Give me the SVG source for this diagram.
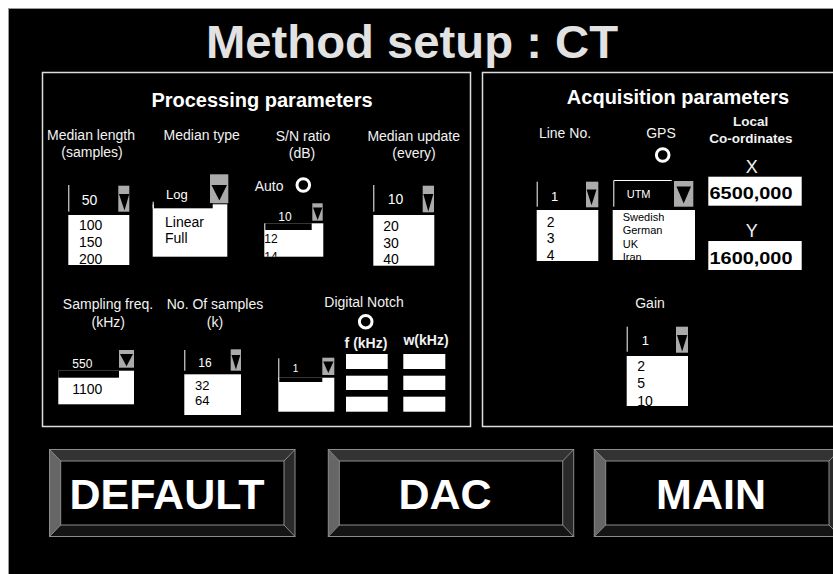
<svg xmlns="http://www.w3.org/2000/svg" width="833" height="574" viewBox="0 0 833 574">
  <style>
    text { font-family: "Liberation Sans", Arial, sans-serif; }
    .title { font-size: 46px; font-weight: bold; fill: #e2e2e2; text-anchor: middle; }
    .head { font-size: 20px; font-weight: bold; fill: #ffffff; text-anchor: middle; }
    .lbl { font-size: 14px; fill: #f2f2f2; text-anchor: middle; }
    .lblb { font-size: 13.5px; font-weight: bold; fill: #f2f2f2; text-anchor: middle; }
    .axis { font-size: 18px; fill: #f2f2f2; text-anchor: middle; }
    .val { font-size: 14px; fill: #ffffff; }
    .item { font-size: 14px; fill: #000000; }
    .big { font-size: 17px; font-weight: bold; fill: #000000; }
    .key { font-size: 43px; font-weight: bold; fill: #ffffff; text-anchor: middle; }
    .panel { fill: none; stroke: #dddddd; stroke-width: 1.5; }
    .list { fill: #ffffff; }
    .hdr { fill: #000000; }
    .edge { stroke: #ffffff; stroke-width: 1; fill: none; }
    .btn { fill: #ababab; }
    .tri { fill: #000000; }
    .radio { fill: none; stroke: #ffffff; stroke-width: 3; }
    .box { fill: #ffffff; }
    .bev-t { fill: #333333; }
    .bev-l { fill: #666666; }
    .bev-b { fill: #141414; }
    .bev-r { fill: #2a2a2a; }
    .bev-line { fill: none; stroke: #8c8c8c; stroke-width: 1; }
  </style>
  <defs>
    <clipPath id="clip-len"><rect x="68.3" y="215" width="61" height="50"/></clipPath>
    <clipPath id="clip-sn"><rect x="264.3" y="223.3" width="59" height="33.4"/></clipPath>
    <clipPath id="clip-upd"><rect x="373.3" y="215" width="61" height="50.7"/></clipPath>
    <clipPath id="clip-line"><rect x="536.7" y="210" width="61.6" height="51"/></clipPath>
    <clipPath id="clip-gps"><rect x="612.7" y="210" width="82.3" height="50"/></clipPath>
    <clipPath id="clip-gain"><rect x="626.7" y="356" width="61.3" height="50"/></clipPath>
  </defs>

  <!-- screen -->
  <rect x="0" y="0" width="833" height="574" fill="#ffffff"/>
  <rect x="8.5" y="8.5" width="830" height="570" fill="#000000" stroke="#9a9a9a" stroke-width="1"/>

  <text id="title" class="title" x="412" y="58" textLength="412" lengthAdjust="spacingAndGlyphs">Method setup : CT</text>

  <!-- processing parameters panel -->
  <g id="processing-panel">
    <rect class="panel" x="42.5" y="72.5" width="428" height="354"/>
    <text class="head" x="262" y="106.5">Processing parameters</text>
  </g>

  <g id="median-length">
    <text class="lbl" x="91" y="140">Median length</text>
    <text class="lbl" x="92" y="157.3">(samples)</text>
    <line class="edge" x1="68.8" y1="185" x2="68.8" y2="211.7"/>
    <text class="val" x="81.7" y="205">50</text>
    <rect class="btn" x="118.3" y="185.7" width="11" height="26"/>
    <polygon class="tri" points="119,194 129.3,194 124.5,210.5"/>
    <rect class="list" x="68.3" y="215" width="61" height="50"/>
    <g clip-path="url(#clip-len)">
      <text class="item" x="79" y="230">100</text>
      <text class="item" x="79" y="246.7">150</text>
      <text class="item" x="79" y="264">200</text>
    </g>
  </g>

  <g id="median-type">
    <text class="lbl" x="201.7" y="140">Median type</text>
    <rect class="btn" x="210" y="174.3" width="18.3" height="29"/>
    <polygon class="tri" points="211.5,185 227,185 219.3,200.5"/>
    <rect class="list" x="152.7" y="204.3" width="74.6" height="52.4"/>
    <rect class="hdr" x="153.7" y="203.3" width="59" height="5"/>
    <line class="edge" x1="153.2" y1="201.7" x2="153.2" y2="208.3"/>
    <text class="val" x="166" y="199.3" style="font-size:13px">Log</text>
    <text class="item" x="165" y="226.7">Linear</text>
    <text class="item" x="165" y="243.3">Full</text>
  </g>

  <g id="sn-ratio">
    <text class="lbl" x="303" y="140.7">S/N ratio</text>
    <text class="lbl" x="302" y="158">(dB)</text>
    <text class="lbl" x="254.7" y="190.7" style="text-anchor:start">Auto</text>
    <circle class="radio" cx="303.3" cy="185" r="6.3"/>
    <text class="val" x="278.3" y="220.7" style="font-size:12px">10</text>
    <rect class="btn" x="312.3" y="203.3" width="10.4" height="17.4"/>
    <polygon class="tri" points="313,207.5 322.3,207.5 317.6,220"/>
    <rect class="list" x="264.3" y="223.3" width="59" height="33.4"/>
    <rect class="hdr" x="265.3" y="223.3" width="46.4" height="6.7"/>
    <g clip-path="url(#clip-sn)">
      <text class="item" x="264.3" y="243.3" style="font-size:12px">12</text>
      <text class="item" x="264.3" y="260.5" style="font-size:12px">14</text>
    </g>
  </g>

  <g id="median-update">
    <text class="lbl" x="413.7" y="140.7">Median update</text>
    <text class="lbl" x="414" y="158">(every)</text>
    <line class="edge" x1="373.8" y1="185" x2="373.8" y2="211.7"/>
    <text class="val" x="387.7" y="204.3">10</text>
    <rect class="btn" x="422.7" y="185.7" width="11.3" height="26.6"/>
    <polygon class="tri" points="423.3,194 433.3,194 428.3,211.5"/>
    <rect class="list" x="373.3" y="215" width="61" height="50.7"/>
    <g clip-path="url(#clip-upd)">
      <text class="item" x="383.3" y="231">20</text>
      <text class="item" x="383.3" y="247.7">30</text>
      <text class="item" x="383.3" y="264.3">40</text>
    </g>
  </g>

  <g id="sampling-freq">
    <text class="lbl" x="108" y="309.3">Sampling freq.</text>
    <text class="lbl" x="108.3" y="326.7">(kHz)</text>
    <text class="val" x="72.3" y="368.3" style="font-size:12px">550</text>
    <rect class="btn" x="119" y="350" width="15" height="17.7"/>
    <polygon class="tri" points="120,354 133,354 126.5,366.3"/>
    <rect class="list" x="58.3" y="370.7" width="75.7" height="33.6"/>
    <rect class="hdr" x="58.3" y="370.7" width="60.7" height="7"/>
    <text class="item" x="72.3" y="394">1100</text>
  </g>

  <g id="sample-count">
    <text class="lbl" x="215" y="309.3">No. Of samples</text>
    <text class="lbl" x="215" y="326.7">(k)</text>
    <line class="edge" x1="184.8" y1="350" x2="184.8" y2="370.7"/>
    <text class="val" x="198.3" y="366.7" style="font-size:12px">16</text>
    <rect class="btn" x="230.7" y="349.3" width="10.3" height="21.4"/>
    <polygon class="tri" points="231.5,355 240.3,355 235.9,369.5"/>
    <rect class="list" x="184.3" y="374.3" width="56.7" height="40.7"/>
    <text class="item" x="195" y="390" style="font-size:13px">32</text>
    <text class="item" x="195" y="405" style="font-size:13px">64</text>
  </g>

  <g id="digital-notch">
    <text class="lbl" x="364" y="306.7">Digital Notch</text>
    <circle class="radio" cx="365.7" cy="321.7" r="6.3"/>
    <text class="lblb" x="366" y="348.3" style="font-size:14px">f (kHz)</text>
    <text class="lblb" x="426" y="345" style="font-size:14px">w(kHz)</text>
    <line class="edge" x1="278.8" y1="358.3" x2="278.8" y2="380"/>
    <text class="val" x="292.7" y="371.7" style="font-size:10px">1</text>
    <rect class="btn" x="322.3" y="357.7" width="12" height="17.3"/>
    <polygon class="tri" points="323.2,361.5 333.5,361.5 328.3,373"/>
    <rect class="list" x="278.3" y="377.7" width="56" height="34"/>
    <rect class="hdr" x="279.3" y="377.7" width="43" height="4.3"/>
    <rect class="box" x="346" y="354" width="41.7" height="15"/>
    <rect class="box" x="346" y="375.7" width="41.7" height="14.3"/>
    <rect class="box" x="346" y="396.7" width="41.7" height="15"/>
    <rect class="box" x="403.3" y="354" width="42" height="15"/>
    <rect class="box" x="403.3" y="375.7" width="42" height="14.3"/>
    <rect class="box" x="403.3" y="396.7" width="42" height="15"/>
  </g>

  <!-- acquisition parameters panel -->
  <g id="acquisition-panel">
    <rect class="panel" x="482.5" y="72.5" width="360" height="354"/>
    <text class="head" x="678" y="104.3">Acquisition parameters</text>
  </g>

  <g id="line-no">
    <text class="lbl" x="565" y="138.3">Line No.</text>
    <line class="edge" x1="537.2" y1="181.7" x2="537.2" y2="206.7"/>
    <text class="val" x="551" y="200.7" style="font-size:13px">1</text>
    <rect class="btn" x="586" y="181.7" width="12.3" height="25.6"/>
    <polygon class="tri" points="586.6,189.5 596.5,189.5 591.5,205.3"/>
    <rect class="list" x="536.7" y="210" width="61.6" height="51"/>
    <g clip-path="url(#clip-line)">
      <text class="item" x="546.7" y="226.7">2</text>
      <text class="item" x="546.7" y="242.7">3</text>
      <text class="item" x="546.7" y="260">4</text>
    </g>
  </g>

  <g id="gps">
    <text class="lbl" x="661" y="138.3">GPS</text>
    <circle class="radio" cx="662.7" cy="155" r="6.3"/>
    <polyline class="edge" points="613.8,206.7 613.8,180.5 671.7,180.5"/>
    <text class="val" x="626.7" y="198.3" style="font-size:11px">UTM</text>
    <rect class="btn" x="674" y="181" width="19.3" height="25.7"/>
    <polygon class="tri" points="676.5,186.5 691,186.5 683.7,203.5"/>
    <rect class="list" x="612.7" y="210" width="82.3" height="50"/>
    <g clip-path="url(#clip-gps)" style="font-size:11px">
      <text class="item" x="622.7" y="221" style="font-size:11px">Swedish</text>
      <text class="item" x="622.7" y="234.3" style="font-size:11px">German</text>
      <text class="item" x="622.7" y="247.7" style="font-size:11px">UK</text>
      <text class="item" x="622.7" y="261" style="font-size:11px">Iran</text>
    </g>
  </g>

  <g id="local-coordinates">
    <text class="lblb" x="750.7" y="126">Local</text>
    <text class="lblb" x="751" y="142.7">Co-ordinates</text>
    <text class="axis" x="751.7" y="172.7">X</text>
    <rect class="box" x="708.3" y="176.7" width="93.4" height="29"/>
    <text class="big" x="709.5" y="199.3" textLength="83" lengthAdjust="spacingAndGlyphs">6500,000</text>
    <text class="axis" x="751.7" y="236.7">Y</text>
    <rect class="box" x="708.3" y="241" width="93.4" height="29"/>
    <text class="big" x="709.5" y="264.3" textLength="83" lengthAdjust="spacingAndGlyphs">1600,000</text>
  </g>

  <g id="gain">
    <text class="lbl" x="650" y="308.3">Gain</text>
    <line class="edge" x1="627.2" y1="326.7" x2="627.2" y2="351.7"/>
    <text class="val" x="641.7" y="345" style="font-size:13px">1</text>
    <rect class="btn" x="676" y="326.7" width="12" height="26"/>
    <polygon class="tri" points="677,335 687.3,335 682.2,351.5"/>
    <rect class="list" x="626.7" y="356" width="61.3" height="50"/>
    <g clip-path="url(#clip-gain)">
      <text class="item" x="637.3" y="371">2</text>
      <text class="item" x="637.3" y="388.3">5</text>
      <text class="item" x="637.3" y="406">10</text>
    </g>
  </g>

  <!-- bevelled command keys -->
  <g id="key-default">
    <polygon class="bev-t" points="49.5,449.5 295,449.5 284,461 60.7,461"/>
    <polygon class="bev-l" points="49.5,449.5 60.7,461 60.7,525 49.5,536.5"/>
    <polygon class="bev-b" points="49.5,536.5 60.7,525 284,525 295,536.5"/>
    <polygon class="bev-r" points="295,449.5 295,536.5 284,525 284,461"/>
    <rect class="bev-line" x="49.5" y="449.5" width="245.5" height="87"/>
    <rect class="bev-line" x="60.7" y="461" width="223.3" height="64"/>
    <path class="bev-line" d="M49.5,449.5 L60.7,461 M295,449.5 L284,461 M49.5,536.5 L60.7,525 M295,536.5 L284,525"/>
    <text class="key" x="167" y="509.3">DEFAULT</text>
  </g>

  <g id="key-dac">
    <polygon class="bev-t" points="328.3,449.5 573.7,449.5 562.7,461 339.3,461"/>
    <polygon class="bev-l" points="328.3,449.5 339.3,461 339.3,525 328.3,536.5"/>
    <polygon class="bev-b" points="328.3,536.5 339.3,525 562.7,525 573.7,536.5"/>
    <polygon class="bev-r" points="573.7,449.5 573.7,536.5 562.7,525 562.7,461"/>
    <rect class="bev-line" x="328.3" y="449.5" width="245.4" height="87"/>
    <rect class="bev-line" x="339.3" y="461" width="223.4" height="64"/>
    <path class="bev-line" d="M328.3,449.5 L339.3,461 M573.7,449.5 L562.7,461 M328.3,536.5 L339.3,525 M573.7,536.5 L562.7,525"/>
    <text class="key" x="445" y="509.3">DAC</text>
  </g>

  <g id="key-main">
    <polygon class="bev-t" points="594.3,449.5 840,449.5 829,461 605.7,461"/>
    <polygon class="bev-l" points="594.3,449.5 605.7,461 605.7,525 594.3,536.5"/>
    <polygon class="bev-b" points="594.3,536.5 605.7,525 829,525 840,536.5"/>
    <polygon class="bev-r" points="840,449.5 840,536.5 829,525 829,461"/>
    <rect class="bev-line" x="594.3" y="449.5" width="245.7" height="87"/>
    <rect class="bev-line" x="605.7" y="461" width="223.3" height="64"/>
    <path class="bev-line" d="M594.3,449.5 L605.7,461 M840,449.5 L829,461 M594.3,536.5 L605.7,525 M840,536.5 L829,525"/>
    <text class="key" x="711" y="509.3">MAIN</text>
  </g>
</svg>
